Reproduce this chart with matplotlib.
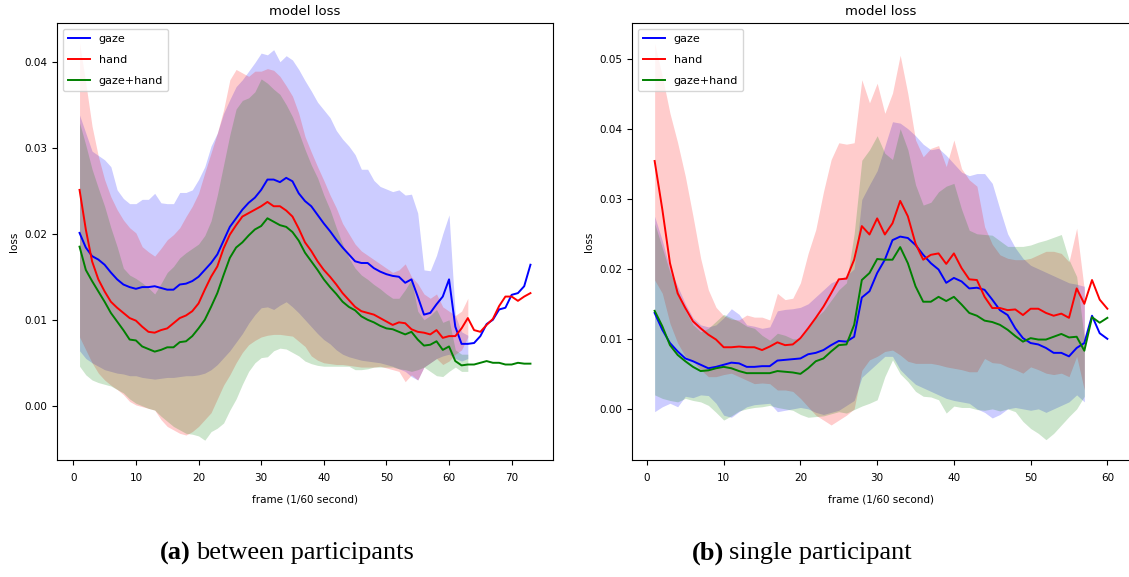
import matplotlib
matplotlib.use("Agg")
import matplotlib.pyplot as plt
import numpy as np

# ---- (a) between participants : mean curves, frames 1..73 ----
a_gaze = [0.0201, 0.0184, 0.0174, 0.0170, 0.0164, 0.0155, 0.0147, 0.0141, 0.0138, 0.0136,
          0.0138, 0.0138, 0.0139, 0.0137, 0.0135, 0.0135, 0.0141, 0.0142, 0.0145, 0.0150,
          0.0158, 0.0166, 0.0176, 0.0192, 0.0208, 0.0218, 0.0228, 0.0236, 0.0242, 0.0251,
          0.0263, 0.0263, 0.0260, 0.0265, 0.0261, 0.0247, 0.0238, 0.0232, 0.0222, 0.0212,
          0.0203, 0.0193, 0.0184, 0.0176, 0.0168, 0.0166, 0.0166, 0.0160, 0.0156, 0.0153,
          0.0151, 0.0150, 0.0143, 0.0147, 0.0127, 0.0106, 0.0108, 0.0118, 0.0127, 0.0147,
          0.0092, 0.0072, 0.0072, 0.0073, 0.0081, 0.0095, 0.0100, 0.0112, 0.0114, 0.0129,
          0.0131, 0.0139, 0.0164]
a_hand = [0.0251, 0.0205, 0.0168, 0.0147, 0.0133, 0.0121, 0.0114, 0.0108, 0.0102, 0.0099,
          0.0092, 0.0086, 0.0085, 0.0088, 0.0090, 0.0096, 0.0102, 0.0105, 0.0110, 0.0119,
          0.0135, 0.0150, 0.0162, 0.0183, 0.0199, 0.0210, 0.0220, 0.0224, 0.0228, 0.0232,
          0.0237, 0.0232, 0.0232, 0.0227, 0.0220, 0.0206, 0.0190, 0.0180, 0.0168, 0.0158,
          0.0150, 0.0141, 0.0131, 0.0123, 0.0115, 0.0110, 0.0108, 0.0106, 0.0102, 0.0098,
          0.0094, 0.0097, 0.0096, 0.0089, 0.0086, 0.0085, 0.0083, 0.0088, 0.0079, 0.0081,
          0.0081, 0.0090, 0.0102, 0.0088, 0.0086, 0.0094, 0.0101, 0.0116, 0.0127, 0.0127,
          0.0122, 0.0127, 0.0131]
a_both = [0.0185, 0.0158, 0.0145, 0.0133, 0.0121, 0.0108, 0.0098, 0.0088, 0.0077, 0.0076,
          0.0069, 0.0066, 0.0063, 0.0065, 0.0068, 0.0068, 0.0074, 0.0075, 0.0081, 0.0090,
          0.0100, 0.0115, 0.0131, 0.0152, 0.0172, 0.0184, 0.0190, 0.0198, 0.0205, 0.0209,
          0.0218, 0.0214, 0.0210, 0.0208, 0.0202, 0.0192, 0.0178, 0.0168, 0.0158, 0.0147,
          0.0138, 0.0130, 0.0121, 0.0115, 0.0111, 0.0104, 0.0100, 0.0097, 0.0093, 0.0090,
          0.0089, 0.0086, 0.0083, 0.0086, 0.0077, 0.0070, 0.0071, 0.0075, 0.0065, 0.0069,
          0.0052, 0.0047, 0.0048, 0.0048, 0.0050, 0.0052, 0.0050, 0.0050, 0.0048, 0.0048,
          0.0050, 0.0049, 0.0049]

# ---- (a) spread bands, frames 1..63 ----
a_gaze_hi = [0.0338, 0.0317, 0.0296, 0.0291, 0.0286, 0.0278, 0.0251, 0.0241, 0.0235, 0.0235,
             0.0240, 0.0240, 0.0247, 0.0236, 0.0235, 0.0235, 0.0248, 0.0248, 0.0251, 0.0263,
             0.0278, 0.0302, 0.0317, 0.0340, 0.0356, 0.0371, 0.0379, 0.0389, 0.0399, 0.0410,
             0.0408, 0.0414, 0.0400, 0.0407, 0.0402, 0.0391, 0.0378, 0.0366, 0.0353, 0.0344,
             0.0335, 0.0320, 0.0310, 0.0302, 0.0292, 0.0275, 0.0275, 0.0262, 0.0255, 0.0252,
             0.0249, 0.0251, 0.0245, 0.0246, 0.0224, 0.0158, 0.0157, 0.0175, 0.0200, 0.0222,
             0.0105, 0.0086, 0.0082]
a_gaze_lo = [0.0064, 0.0055, 0.0050, 0.0046, 0.0042, 0.0040, 0.0038, 0.0037, 0.0035, 0.0035,
             0.0033, 0.0032, 0.0031, 0.0032, 0.0033, 0.0033, 0.0034, 0.0035, 0.0035, 0.0036,
             0.0038, 0.0042, 0.0048, 0.0056, 0.0064, 0.0074, 0.0084, 0.0096, 0.0106, 0.0114,
             0.0115, 0.0112, 0.0117, 0.0121, 0.0115, 0.0108, 0.0100, 0.0092, 0.0084, 0.0077,
             0.0072, 0.0065, 0.0060, 0.0057, 0.0055, 0.0053, 0.0052, 0.0051, 0.0050, 0.0048,
             0.0046, 0.0043, 0.0040, 0.0034, 0.0030, 0.0045, 0.0050, 0.0055, 0.0058, 0.0060,
             0.0055, 0.0052, 0.0055]
a_hand_hi = [0.0422, 0.0375, 0.0325, 0.0290, 0.0263, 0.0243, 0.0228, 0.0216, 0.0207, 0.0201,
             0.0185, 0.0179, 0.0174, 0.0183, 0.0193, 0.0199, 0.0207, 0.0220, 0.0232, 0.0247,
             0.0271, 0.0294, 0.0317, 0.0344, 0.0379, 0.0391, 0.0387, 0.0383, 0.0389, 0.0389,
             0.0392, 0.0390, 0.0383, 0.0372, 0.0360, 0.0340, 0.0313, 0.0295, 0.0278, 0.0262,
             0.0245, 0.0230, 0.0212, 0.0200, 0.0188, 0.0180, 0.0175, 0.0170, 0.0165, 0.0160,
             0.0155, 0.0158, 0.0165, 0.0150, 0.0142, 0.0130, 0.0125, 0.0130, 0.0115, 0.0110,
             0.0105, 0.0110, 0.0125]
a_hand_lo = [0.0080, 0.0065, 0.0050, 0.0038, 0.0030, 0.0024, 0.0019, 0.0013, 0.0005, 0.0001,
             -0.0001, -0.0003, -0.0005, -0.0016, -0.0024, -0.0028, -0.0032, -0.0034, -0.0030, -0.0024,
             -0.0016, -0.0008, 0.0008, 0.0024, 0.0036, 0.0050, 0.0062, 0.0071, 0.0076, 0.0080,
             0.0082, 0.0083, 0.0083, 0.0082, 0.0081, 0.0075, 0.0069, 0.0058, 0.0053, 0.0050,
             0.0049, 0.0048, 0.0048, 0.0047, 0.0046, 0.0045, 0.0045, 0.0045, 0.0046, 0.0044,
             0.0042, 0.0040, 0.0028, 0.0036, 0.0030, 0.0045, 0.0050, 0.0055, 0.0048, 0.0052,
             0.0060, 0.0065, 0.0080]
a_both_hi = [0.0329, 0.0303, 0.0275, 0.0253, 0.0232, 0.0207, 0.0185, 0.0160, 0.0152, 0.0148,
             0.0143, 0.0137, 0.0130, 0.0142, 0.0155, 0.0162, 0.0172, 0.0178, 0.0183, 0.0188,
             0.0198, 0.0215, 0.0245, 0.0280, 0.0315, 0.0345, 0.0355, 0.0358, 0.0365, 0.0380,
             0.0375, 0.0368, 0.0362, 0.0350, 0.0336, 0.0318, 0.0298, 0.0280, 0.0265, 0.0245,
             0.0228, 0.0207, 0.0188, 0.0172, 0.0160, 0.0152, 0.0147, 0.0141, 0.0136, 0.0130,
             0.0125, 0.0125, 0.0135, 0.0147, 0.0110, 0.0100, 0.0105, 0.0112, 0.0097, 0.0100,
             0.0065, 0.0060, 0.0060]
a_both_lo = [0.0046, 0.0036, 0.0030, 0.0027, 0.0025, 0.0023, 0.0019, 0.0015, 0.0008, 0.0003,
             0.0000, -0.0003, -0.0005, -0.0012, -0.0018, -0.0024, -0.0028, -0.0032, -0.0033, -0.0035,
             -0.0040, -0.0030, -0.0026, -0.0020, -0.0005, 0.0008, 0.0025, 0.0040, 0.0050, 0.0056,
             0.0057, 0.0064, 0.0067, 0.0066, 0.0062, 0.0058, 0.0052, 0.0049, 0.0047, 0.0046,
             0.0046, 0.0046, 0.0046, 0.0046, 0.0042, 0.0042, 0.0043, 0.0045, 0.0045, 0.0045,
             0.0045, 0.0043, 0.0042, 0.0040, 0.0042, 0.0045, 0.0040, 0.0035, 0.0034, 0.0040,
             0.0045, 0.0040, 0.0040]

# ---- (b) single participant : mean curves, frames 1..60 ----
b_gaze = [0.0137, 0.0113, 0.0094, 0.0082, 0.0072, 0.0068, 0.0063, 0.0058, 0.0060, 0.0063,
          0.0066, 0.0065, 0.0060, 0.0060, 0.0061, 0.0061, 0.0069, 0.0070, 0.0071, 0.0072,
          0.0078, 0.0080, 0.0084, 0.0091, 0.0097, 0.0096, 0.0103, 0.0159, 0.0168, 0.0194,
          0.0213, 0.0241, 0.0246, 0.0244, 0.0234, 0.0220, 0.0208, 0.0199, 0.0180, 0.0187,
          0.0182, 0.0172, 0.0173, 0.0170, 0.0156, 0.0141, 0.0134, 0.0115, 0.0101, 0.0094,
          0.0092, 0.0087, 0.0080, 0.0080, 0.0075, 0.0087, 0.0094, 0.0133, 0.0108, 0.0100]
b_hand = [0.0354, 0.0285, 0.0208, 0.0165, 0.0144, 0.0125, 0.0115, 0.0106, 0.0099, 0.0088,
          0.0088, 0.0089, 0.0088, 0.0088, 0.0084, 0.0089, 0.0095, 0.0091, 0.0092, 0.0101,
          0.0115, 0.0130, 0.0146, 0.0165, 0.0185, 0.0186, 0.0213, 0.0261, 0.0249, 0.0272,
          0.0249, 0.0265, 0.0297, 0.0275, 0.0236, 0.0213, 0.0220, 0.0222, 0.0207, 0.0222,
          0.0201, 0.0185, 0.0184, 0.0160, 0.0144, 0.0144, 0.0141, 0.0142, 0.0134, 0.0143,
          0.0143, 0.0137, 0.0133, 0.0136, 0.0130, 0.0172, 0.0150, 0.0184, 0.0156, 0.0143]
b_both = [0.0140, 0.0118, 0.0091, 0.0077, 0.0068, 0.0060, 0.0054, 0.0055, 0.0058, 0.0060,
          0.0058, 0.0054, 0.0051, 0.0051, 0.0051, 0.0051, 0.0054, 0.0053, 0.0052, 0.0050,
          0.0058, 0.0068, 0.0072, 0.0082, 0.0091, 0.0092, 0.0120, 0.0184, 0.0194, 0.0214,
          0.0213, 0.0213, 0.0231, 0.0208, 0.0175, 0.0153, 0.0153, 0.0160, 0.0154, 0.0160,
          0.0149, 0.0137, 0.0133, 0.0126, 0.0124, 0.0120, 0.0113, 0.0104, 0.0096, 0.0101,
          0.0099, 0.0099, 0.0103, 0.0107, 0.0102, 0.0103, 0.0083, 0.0131, 0.0123, 0.0130]

# ---- (b) spread bands, frames 1..57 ----
b_gaze_hi = [0.0275, 0.0240, 0.0200, 0.0175, 0.0150, 0.0130, 0.0120, 0.0117, 0.0120, 0.0130,
             0.0143, 0.0135, 0.0120, 0.0118, 0.0115, 0.0117, 0.0140, 0.0142, 0.0143, 0.0145,
             0.0150, 0.0160, 0.0170, 0.0180, 0.0185, 0.0190, 0.0200, 0.0299, 0.0320, 0.0340,
             0.0375, 0.0410, 0.0408, 0.0400, 0.0390, 0.0378, 0.0370, 0.0372, 0.0362, 0.0350,
             0.0338, 0.0333, 0.0336, 0.0336, 0.0322, 0.0285, 0.0250, 0.0230, 0.0215, 0.0205,
             0.0200, 0.0195, 0.0190, 0.0185, 0.0180, 0.0178, 0.0175]
b_gaze_lo = [-0.0004, 0.0003, 0.0008, 0.0003, 0.0018, 0.0016, 0.0020, 0.0019, 0.0008, -0.0009,
             -0.0012, -0.0004, 0.0003, 0.0006, 0.0007, 0.0008, -0.0004, -0.0002, 0.0000, 0.0002,
             0.0000, -0.0005, -0.0008, -0.0005, -0.0002, 0.0005, 0.0012, 0.0045, 0.0055, 0.0065,
             0.0075, 0.0075, 0.0056, 0.0045, 0.0035, 0.0030, 0.0025, 0.0020, 0.0015, 0.0012,
             0.0010, 0.0008, 0.0000, -0.0005, -0.0013, -0.0008, 0.0000, 0.0002, 0.0000, -0.0002,
             0.0000, -0.0005, 0.0000, 0.0005, 0.0010, 0.0020, 0.0010]
b_hand_hi = [0.0522, 0.0475, 0.0422, 0.0380, 0.0332, 0.0275, 0.0215, 0.0170, 0.0145, 0.0133,
             0.0128, 0.0127, 0.0134, 0.0131, 0.0131, 0.0127, 0.0165, 0.0156, 0.0158, 0.0180,
             0.0222, 0.0256, 0.0310, 0.0356, 0.0380, 0.0378, 0.0380, 0.0470, 0.0437, 0.0465,
             0.0422, 0.0451, 0.0505, 0.0450, 0.0384, 0.0360, 0.0372, 0.0376, 0.0346, 0.0384,
             0.0343, 0.0327, 0.0318, 0.0260, 0.0235, 0.0220, 0.0215, 0.0213, 0.0213, 0.0215,
             0.0220, 0.0225, 0.0225, 0.0222, 0.0210, 0.0258, 0.0170]
b_hand_lo = [0.0184, 0.0165, 0.0122, 0.0094, 0.0075, 0.0068, 0.0056, 0.0046, 0.0046, 0.0049,
             0.0051, 0.0046, 0.0041, 0.0036, 0.0037, 0.0036, 0.0027, 0.0027, 0.0025, 0.0015,
             0.0003, -0.0009, -0.0016, -0.0023, -0.0016, -0.0009, 0.0000, 0.0055, 0.0070, 0.0075,
             0.0082, 0.0084, 0.0077, 0.0068, 0.0065, 0.0065, 0.0065, 0.0063, 0.0060, 0.0058,
             0.0056, 0.0053, 0.0053, 0.0072, 0.0066, 0.0065, 0.0060, 0.0056, 0.0051, 0.0060,
             0.0056, 0.0051, 0.0049, 0.0051, 0.0046, 0.0075, 0.0027]
b_both_hi = [0.0265, 0.0230, 0.0195, 0.0170, 0.0140, 0.0120, 0.0110, 0.0115, 0.0125, 0.0135,
             0.0130, 0.0125, 0.0118, 0.0115, 0.0105, 0.0098, 0.0108, 0.0105, 0.0100, 0.0100,
             0.0115, 0.0130, 0.0140, 0.0155, 0.0170, 0.0180, 0.0250, 0.0355, 0.0370, 0.0390,
             0.0365, 0.0356, 0.0400, 0.0370, 0.0320, 0.0291, 0.0295, 0.0310, 0.0318, 0.0322,
             0.0285, 0.0255, 0.0250, 0.0249, 0.0248, 0.0240, 0.0232, 0.0232, 0.0232, 0.0234,
             0.0238, 0.0241, 0.0245, 0.0249, 0.0213, 0.0189, 0.0100]
b_both_lo = [0.0020, 0.0015, 0.0012, 0.0010, 0.0015, 0.0012, 0.0010, 0.0005, -0.0005, -0.0016,
             -0.0010, -0.0003, 0.0000, 0.0002, 0.0003, 0.0005, 0.0002, 0.0000, -0.0002, -0.0008,
             -0.0012, -0.0011, -0.0010, -0.0007, -0.0004, -0.0006, -0.0001, 0.0004, 0.0008, 0.0013,
             0.0046, 0.0070, 0.0050, 0.0039, 0.0025, 0.0018, 0.0017, 0.0013, -0.0006, 0.0004,
             0.0002, 0.0002, -0.0001, -0.0002, 0.0000, -0.0003, 0.0000, -0.0004, -0.0018, -0.0028,
             -0.0035, -0.0044, -0.0035, -0.0023, -0.0011, 0.0000, 0.0018]

labels = ["gaze", "hand", "gaze+hand"]
colors = ["b", "r", "g"]


def draw(ax, means, bands, ylim, xticks):
    for (m, c, lab) in zip(means, colors, labels):
        x = np.arange(1, len(m) + 1)
        ax.plot(x, m, color=c, lw=1.4, label=lab)
    for (lo, hi), c in zip(bands, colors):
        x = np.arange(1, len(lo) + 1)
        ax.fill_between(x, lo, hi, color=c, alpha=0.2, lw=0)
    ax.set_ylim(*ylim)
    ax.set_xticks(xticks)
    ax.set_title("model loss", fontsize=9.5, pad=6)
    ax.set_xlabel("frame (1/60 second)", fontsize=7.5, labelpad=8)
    ax.set_ylabel("loss", fontsize=7.5)
    ax.tick_params(labelsize=7.5)
    ax.tick_params(axis="x", pad=6)
    ax.legend(loc="upper left", fontsize=8, labelspacing=1.0, borderpad=0.45)


fig = plt.figure(figsize=(11.29, 5.77), dpi=100)
ax1 = fig.add_axes([57 / 1129, 117 / 577, 496 / 1129, 437 / 577])
ax2 = fig.add_axes([632 / 1129, 117 / 577, 498 / 1129, 437 / 577])

draw(ax1, [a_gaze, a_hand, a_both],
     [(a_gaze_lo, a_gaze_hi), (a_hand_lo, a_hand_hi), (a_both_lo, a_both_hi)],
     (-0.0063, 0.0445), range(0, 80, 10))
draw(ax2, [b_gaze, b_hand, b_both],
     [(b_gaze_lo, b_gaze_hi), (b_hand_lo, b_hand_hi), (b_both_lo, b_both_hi)],
     (-0.0073, 0.0551), range(0, 70, 10))

cap = dict(family="Liberation Serif", fontsize=19, va="center")
fig.text(160 / 1129, 24 / 577, "(a)", weight="bold", **cap)
fig.text(196 / 1129, 24 / 577, "between participants", **cap)
fig.text(692 / 1129, 24 / 577, "(b)", weight="bold", **cap)
fig.text(729 / 1129, 24 / 577, "single participant", **cap)

fig.savefig("out.png", dpi=100)
